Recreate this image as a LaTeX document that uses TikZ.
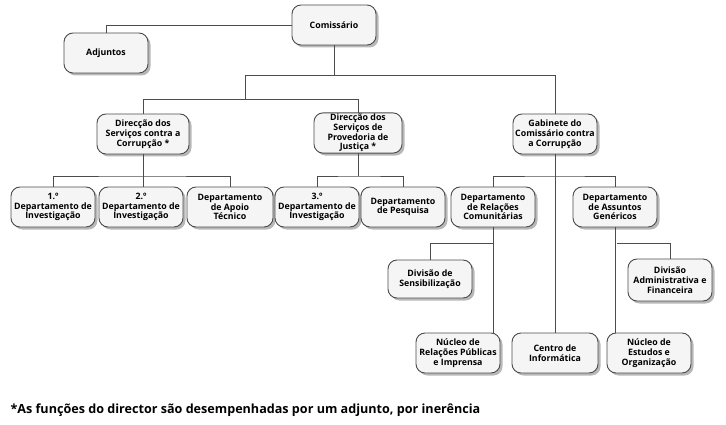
\documentclass[tikz,border=0pt]{standalone}
\usepackage{fontspec}
\setmainfont{Open Sans}
\usetikzlibrary{calc,shadows}
\tikzset{>=stealth,
	unit/.style={draw=black!70, fill=black!4, rounded corners=9pt, line width=0.9pt, align=center, inner sep=1pt, outer sep=0pt, minimum width=84pt, minimum height=40pt, font=\fontsize{8.8}{9.8}\selectfont\bfseries, drop shadow={shadow xshift=2.5pt, shadow yshift=-2.5pt, fill=black!35, opacity=0.8}},
	link/.style={draw=black!70, line width=0.9pt},
}
\begin{document}
\begin{tikzpicture}[x=1pt,y=-1pt]
			\useasboundingbox (0,0) rectangle (726,425);
			\coordinate (jA) at (245,75);
			\coordinate (jB) at (245,99);
			\coordinate (jC) at (143,176);
			\coordinate (jD) at (358,176);
			\coordinate (jE) at (555,176);
			\coordinate (jF) at (493,243);
			\coordinate (jG) at (617,243);
			\node[unit] (com) at (334,25) {Comissário};
			\node[unit] (adj) at (106,53) {Adjuntos};
			\node[unit, minimum width=92pt] (dsc) at (143,134) {Direcção dos\\Serviços contra a\\Corrupção *};
			\node[unit, minimum width=88pt] (dsp) at (358,133) {Direcção dos\\Serviços de\\Provedoria de\\Justiça *};
			\node[unit] (gab) at (555,134) {Gabinete do\\Comissário contra\\a Corrupção};
			\node[unit] (inv1) at (53,207) {1.º\\Departamento de\\Investigação};
			\node[unit] (inv2) at (141,207) {2.º\\Departamento de\\Investigação};
			\node[unit, minimum width=86pt] (apo) at (230,207) {Departamento\\de Apoio\\Técnico};
			\node[unit] (inv3) at (317,207) {3.º\\Departamento de\\Investigação};
			\node[unit] (pes) at (403,207) {Departamento\\de Pesquisa};
			\node[unit] (rel) at (493,207) {Departamento\\de Relações\\Comunitárias};
			\node[unit] (ger) at (615,207) {Departamento\\de Assuntos\\Genéricos};
			\node[unit, minimum height=38pt] (sen) at (430,279) {Divisão de\\Sensibilização};
			\node[unit, minimum height=42pt] (dad) at (670,280) {Divisão\\Administrativa e\\Financeira};
			\node[unit] (nrp) at (458,353) {Núcleo de\\Relações Públicas\\e Imprensa};
			\node[unit, minimum width=86pt] (cin) at (555,353) {Centro de\\Informática};
			\node[unit] (nee) at (649,353) {Núcleo de\\Estudos e\\Organização};
			\node[anchor=base west, font=\fontsize{12.6}{14}\selectfont\bfseries] (nota) at (7,413) {*As funções do director são desempenhadas por um adjunto, por inerência};
			\draw[link] (adj.north) |- (com.west);
			\draw[link] (com.south) -- (com.south |- jA);
			\draw[link] (jA) -| (gab.north);
			\draw[link] (jA) -- (jB);
			\draw[link] (jB) -| (dsc.north);
			\draw[link] (jB) -| (dsp.north);
			\draw[link] (dsc.south) -- (dsc.south |- inv2.north);
			\draw[link] (inv1.north) |- (jC) -| (apo.north);
			\draw[link] (dsp.south) -- (jD);
			\draw[link] (inv3.north) |- (jD) -| (pes.north);
			\draw[link] (gab.south) -- (cin.north);
			\draw[link] (rel.north) |- (jE) -| (ger.north);
			\draw[link] (rel.south) -- (rel.south |- nrp.north);
			\draw[link] (sen.north) |- (jF);
			\draw[link] (ger.south) -- (ger.south |- nee.north);
			\draw[link] (jG) -| (dad.north);
		\end{tikzpicture}
\end{document}
